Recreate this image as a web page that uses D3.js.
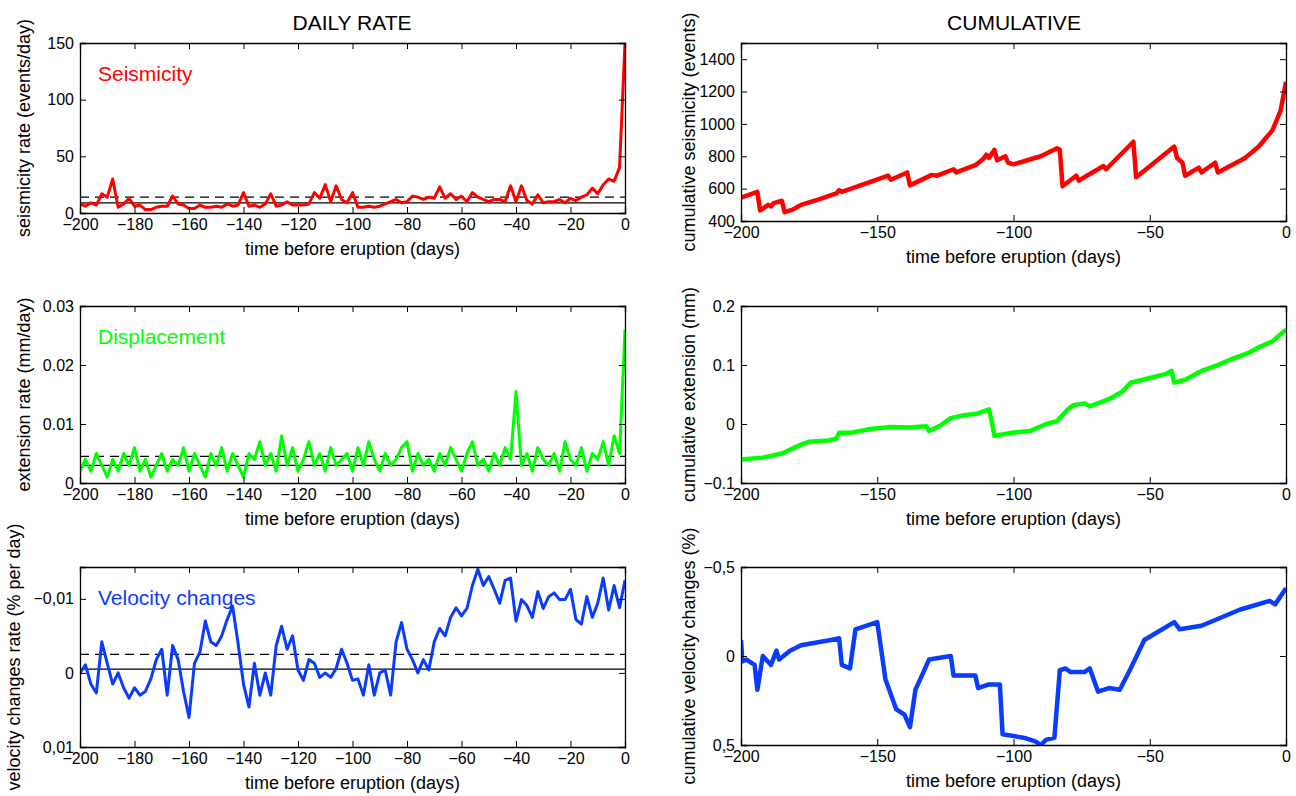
<!DOCTYPE html>
<html><head><meta charset="utf-8">
<script src="https://cdn.jsdelivr.net/npm/d3@7"></script>
<style>body{margin:0;background:#fff}svg{font-family:"Liberation Sans",Arial,sans-serif}</style>
</head><body><svg id="c" width="1296" height="796"></svg>
<script>
// daily rates, one value every 2 days from -200 to 0
const seisRate = [
  8,6,9,7,17,14,30,5,8,13,
  6,7,3,3,5,6,6,15,8,7,
  4,4,7,5,5,6,5,8,6,7,
  18,6,7,5,8,17,6,7,10,7,
  7,7,8,18,13,25,10,24,12,9,
  18,5,5,6,5,6,8,10,12,9,
  10,15,14,12,14,13,23,13,17,12,
  15,10,18,14,12,10,12,12,10,24,
  10,24,11,8,16,9,10,10,12,9,
  13,11,14,16,22,17,25,30,28,40,
  150];
const dispRate = [
  2,4,2,5,3,1,4,2,5,3,
  6,2,4,1,3,5,2,4,3,6,
  2,5,3,1,5,3,6,2,5,3,
  1,5,4,7,3,5,2,8,3,6,
  2,4,7,3,5,2,6,3,4,5,
  2,6,3,7,4,2,5,3,4,6,
  7,2,5,3,4,2,5,3,6,4,
  2,5,7,3,4,2,5,3,6,4,
  15.5,3,5,2,6,4,3,5,2,7,
  4,3,6,2,5,4,7,3,8,5,
  26].map(v => v / 1000);
const velRate = [
  0,-0.0011,0.0015,0.0027,-0.0042,-0.0013,0.0015,0,0.002,0.0034,
  0.002,0.003,0.0025,0.0008,-0.0018,-0.0032,0.003,-0.0037,-0.0018,0.0025,
  0.006,-0.0013,-0.0028,-0.007,-0.0042,-0.0037,-0.005,-0.0072,-0.009,-0.004,
  0.0015,0.0046,-0.0013,0.003,0,0.003,-0.0037,-0.0063,-0.0032,-0.005,
  -0.0004,0.001,-0.0018,-0.0013,0.0006,0,0.0006,-0.0006,-0.0032,-0.0013,
  0.001,0.0008,0.003,-0.0011,0.003,0,-0.0004,0.003,-0.0042,-0.0068,
  -0.0032,-0.0018,0,-0.0018,-0.0004,-0.0042,-0.006,-0.005,-0.0075,-0.0088,
  -0.0077,-0.0087,-0.0118,-0.014,-0.0118,-0.013,-0.0113,-0.0094,-0.0125,-0.0128,
  -0.007,-0.0099,-0.0091,-0.0075,-0.011,-0.0087,-0.0103,-0.0108,-0.0099,-0.0099,
  -0.0113,-0.0072,-0.0066,-0.0103,-0.0075,-0.0094,-0.0128,-0.0085,-0.0118,-0.0088,
  -0.0125];
const seisLines = [9, 14], dispLines = [0.003, 0.0045], velLines = [-0.0005, -0.0025];

// cumulative curves: [day, value]
const seisCum = [[-200,545],[-194,580],[-193,465],[-190,500],[-189,490],[-188,510],[-187,515],[-185,525],[-184,455],[-181,470],[-178,500],[-172,530],[-165,570],[-164,590],[-163,580],[-158,610],[-146,680],[-145,655],[-139,700],[-138,620],[-130,685],[-128,680],[-122,720],[-121,700],[-114,745],[-111,785],[-110,810],[-109,790],[-107,840],[-106,775],[-103,800],[-102,760],[-100,750],[-90,800],[-84,850],[-83,840],[-82,615],[-77,680],[-76,650],[-67,740],[-66,720],[-56,890],[-55,670],[-41,860],[-40,790],[-38,760],[-37,680],[-32,730],[-31,700],[-26,760],[-25,700],[-15,790],[-10,860],[-5,960],[-2,1080],[0,1260]];
const dispCum = [[-200,-0.06],[-192,-0.057],[-185,-0.05],[-178,-0.035],[-175,-0.03],[-168,-0.028],[-165,-0.025],[-164,-0.015],[-160,-0.015],[-152,-0.008],[-145,-0.005],[-138,-0.006],[-132,-0.004],[-131,-0.012],[-127,-0.003],[-123,0.01],[-118,0.015],[-113,0.018],[-109,0.025],[-108,0.005],[-107,-0.02],[-101,-0.015],[-94,-0.012],[-88,0],[-84,0.005],[-80,0.025],[-78,0.032],[-74,0.035],[-72,0.03],[-65,0.042],[-60,0.055],[-57,0.07],[-50,0.078],[-44,0.085],[-42,0.09],[-41,0.07],[-37,0.075],[-31,0.09],[-25,0.1],[-20,0.11],[-14,0.12],[-10,0.13],[-5,0.14],[0,0.16]];
const velCum = [[-200,-0.09],[-199.5,0.03],[-198,0.02],[-195,0.05],[-194,0.19],[-192,0],[-189,0.05],[-187,-0.03],[-186,0.02],[-182,-0.03],[-178,-0.06],[-167,-0.09],[-164,-0.1],[-163,0.05],[-160,0.07],[-158,-0.15],[-150,-0.19],[-147,0.13],[-143,0.3],[-140,0.33],[-138,0.4],[-136,0.19],[-131,0.02],[-123,0],[-122,0.11],[-114,0.11],[-113,0.18],[-109,0.16],[-105,0.16],[-104,0.44],[-96,0.46],[-92,0.48],[-90,0.5],[-88,0.47],[-85,0.46],[-83,0.08],[-81,0.07],[-79,0.09],[-74,0.09],[-72,0.07],[-69,0.2],[-65,0.18],[-61,0.19],[-57,0.07],[-52,-0.09],[-41,-0.19],[-39,-0.15],[-31,-0.17],[-17,-0.26],[-6,-0.31],[-4,-0.29],[0,-0.38]];

const svg = d3.select('#c');
const fmtComma = d => d3.format('')(d).replace('-', '\u2212').replace('.', ',');
const fmtMinus = d => String(d).replace('-', '\u2212');

function panel(o) {
    const x = d3.scaleLinear().domain([-200, 0]).range([o.x0, o.x1]);
    const y = d3.scaleLinear().domain(o.yd).range([o.y1, o.y0]);
    const g = svg.append('g');
    const clip = 'clip' + Math.round(o.x0) + '_' + Math.round(o.y0);
    g.append('clipPath').attr('id', clip).append('rect')
        .attr('x', o.x0).attr('y', o.y0).attr('width', o.x1 - o.x0).attr('height', o.y1 - o.y0);
    const plot = g.append('g').attr('clip-path', 'url(#' + clip + ')');
    (o.hlines || []).forEach((v, i) => {
        plot.append('line').attr('x1', o.x0).attr('x2', o.x1).attr('y1', y(v)).attr('y2', y(v))
            .attr('stroke', '#000').attr('stroke-width', 1.3)
            .attr('stroke-dasharray', i ? '9,6' : null);
    });
    const line = d3.line().x(d => x(d[0])).y(d => y(d[1]));
    plot.append('path').datum(o.data).attr('d', line).attr('fill', 'none')
        .attr('stroke', o.color).attr('stroke-width', o.sw).attr('stroke-linejoin', 'round');
    // axes with inward ticks, matlab style
    const tl = 6;
    g.append('g').attr('transform', `translate(0,${o.y1})`)
        .call(d3.axisBottom(x).tickValues(o.xt).tickSize(-tl).tickPadding(6).tickFormat(fmtMinus));
    g.append('g').attr('transform', `translate(0,${o.y0})`)
        .call(d3.axisTop(x).tickValues(o.xt).tickSize(-tl).tickFormat(''));
    g.append('g').attr('transform', `translate(${o.x0},0)`)
        .call(d3.axisLeft(y).tickValues(o.yt).tickSize(-tl).tickPadding(6).tickFormat(o.yf));
    g.append('g').attr('transform', `translate(${o.x1},0)`)
        .call(d3.axisRight(y).tickValues(o.yt).tickSize(-tl).tickFormat(''));
    g.selectAll('.domain').attr('stroke', '#000').attr('stroke-width', 1.3);
    g.selectAll('.tick line').attr('stroke', '#000');
    g.selectAll('.tick text').attr('font-size', 16).attr('fill', '#000');
    g.append('text').attr('x', (o.x0 + o.x1) / 2).attr('y', o.y1 + 42).attr('text-anchor', 'middle')
        .attr('font-size', 18).text('time before eruption (days)');
    g.append('text').attr('transform', `translate(${o.lx},${(o.y0 + o.y1) / 2}) rotate(-90)`)
        .attr('text-anchor', 'middle').attr('font-size', 18).text(o.ylabel);
    if (o.name) g.append('text').attr('x', o.x0 + 18).attr('y', o.y0 + 38)
        .attr('fill', o.color).attr('font-size', 21).text(o.name);
}

const days = d => d.map((v, i) => [-200 + i * 2, v]);
const L = {x0: 80, x1: 625, lx: 30}, R = {x0: 741, x1: 1286, lx: 695};
const rows = [[43, 213], [306, 483], [567, 747]];
const leftTicks = d3.range(-200, 1, 20), rightTicks = [-200, -150, -100, -50, 0];
const red = '#ff0000', green = '#00ff00', blue = '#0a3cff';

panel({...L, y0: rows[0][0], y1: rows[0][1], yd: [0, 150], yt: [0, 50, 100, 150], yf: d3.format('d'),
    xt: leftTicks, data: days(seisRate), hlines: seisLines, color: red, sw: 3,
    name: 'Seismicity', ylabel: 'seismicity rate (events/day)'});
panel({...L, y0: rows[1][0], y1: rows[1][1], yd: [0, 0.03], yt: [0, 0.01, 0.02, 0.03], yf: d => d === 0 ? '0' : String(d),
    xt: leftTicks, data: days(dispRate), hlines: dispLines, color: green, sw: 3,
    name: 'Displacement', ylabel: 'extension rate (mm/day)'});
panel({...L, y0: 567, y1: 747, yd: [0.01, -0.0143], yt: [-0.01, 0, 0.01], yf: fmtComma,
    xt: leftTicks, data: days(velRate), hlines: velLines, color: blue, sw: 3,
    name: 'Velocity changes', ylabel: 'velocity changes rate (% per day)', lx: 20});
panel({...R, y0: rows[0][0], y1: 221, yd: [400, 1500], yt: d3.range(400, 1401, 200), yf: d3.format('d'),
    xt: rightTicks, data: seisCum, color: red, sw: 4.5, ylabel: 'cumulative seismicity (events)'});
panel({...R, y0: rows[1][0], y1: rows[1][1], yd: [-0.1, 0.2], yt: [-0.1, 0, 0.1, 0.2], yf: fmtMinus,
    xt: rightTicks, data: dispCum, color: green, sw: 4.5, ylabel: 'cumulative extension (mm)'});
panel({...R, y0: 567, y1: 745, yd: [0.5, -0.5], yt: [-0.5, 0, 0.5], yf: fmtComma,
    xt: rightTicks, data: velCum, color: blue, sw: 4.5, ylabel: 'cumulative velocity changes (%)'});

svg.append('text').attr('x', 352).attr('y', 30).attr('text-anchor', 'middle').attr('font-size', 21).text('DAILY RATE');
svg.append('text').attr('x', 1014).attr('y', 30).attr('text-anchor', 'middle').attr('font-size', 21).text('CUMULATIVE');
</script></body></html>
